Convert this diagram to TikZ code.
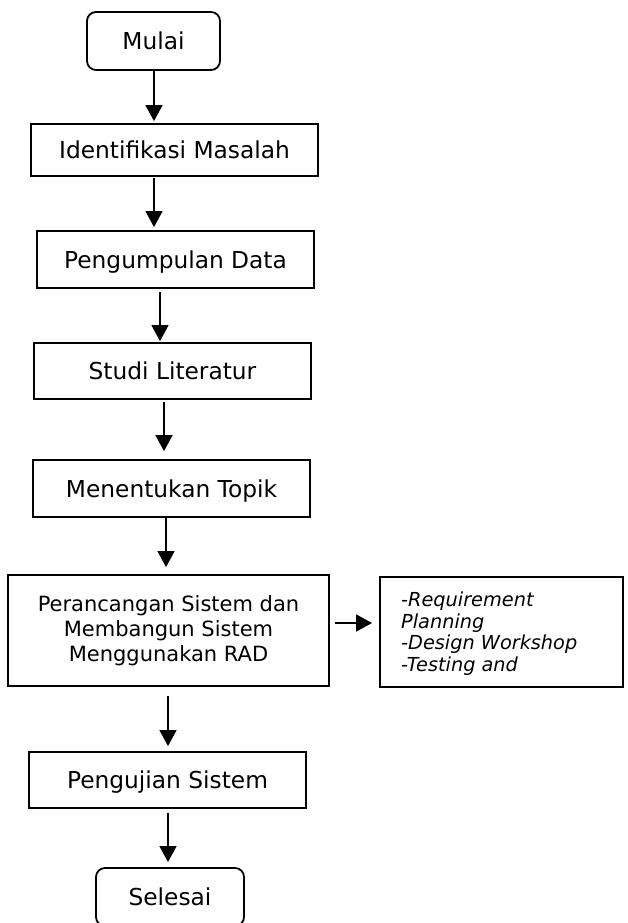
\documentclass[tikz,border=0pt]{standalone}
\usepackage{fontspec}
\setmainfont{DejaVu Sans}
\usetikzlibrary{calc}
\usetikzlibrary{arrows.meta}

\begin{document}
\begin{tikzpicture}[x=1pt, y=-1pt,
        box/.style={rectangle, draw=black, line width=1.8pt, inner sep=0pt},
        stepbox/.style={box, text height=17pt, text depth=0pt, font=\fontsize{23.3}{27}\selectfont},
        term/.style={stepbox, rounded corners=9pt},
        arr/.style={line width=1.4pt, -{Triangle[width=17pt, length=16pt]}}]
        \useasboundingbox (0, 0) rectangle (627, 923);
        % name/style/x/y/width/height/text
        \foreach \n/\s/\x/\y/\w/\h/\t in {mulai/term/153.5/41/133/58/Mulai,
            ident/stepbox/174.5/150/287/52/Identifikasi Masalah,
            kumpul/stepbox/175.5/259.5/277/57/Pengumpulan Data,
            studi/stepbox/172.5/371/277/56/Studi Literatur,
            topik/stepbox/171.5/488.5/277/57/Menentukan Topik,
            uji/stepbox/167.5/780/277/56/Pengujian Sistem,
            selesai/term/170/897/148/58/Selesai}
        {
            \node[\s, minimum width=\w, minimum height=\h] (\n) at (\x, \y) {\t};
        }
        \node[box, minimum width=321, minimum height=111, align=center,
            font=\fontsize{21}{25}\selectfont] (rancang) at (168.5, 630.5)
            {Perancangan Sistem dan\\Membangun Sistem\\Menggunakan RAD};
        \node[box, minimum width=243, minimum height=110] (rad) at (501.5, 632) {};
        \begin{scope}
            \clip (rad.north west) rectangle ([yshift=11pt]rad.south east);
            \node[anchor=north west, inner sep=0pt, align=left,
                font=\fontsize{19.3}{21.8}\selectfont\itshape] (radtext) at (401, 591.5)
                {-Requirement\\Planning\\-Design Workshop\\-Testing and};
        \end{scope}
        % from/to/x/gap at start/gap at end
        \foreach \a/\b/\x/\s/\e in {mulai/ident/154/0/2, ident/kumpul/154/1/3,
            kumpul/studi/160/3/1, studi/topik/164/2/8, topik/rancang/166/0/7,
            rancang/uji/168/9/5, uji/selesai/168/4/5}
        {
            \draw[arr, shorten <=\s pt, shorten >=\e pt] (\a.south -| \x,0) -- (\b.north -| \x,0);
        }
        \draw[arr, shorten <=5pt, shorten >=7pt] (rancang.east |- 0,623) -- (rad.west |- 0,623);
    \end{tikzpicture}
\end{document}
